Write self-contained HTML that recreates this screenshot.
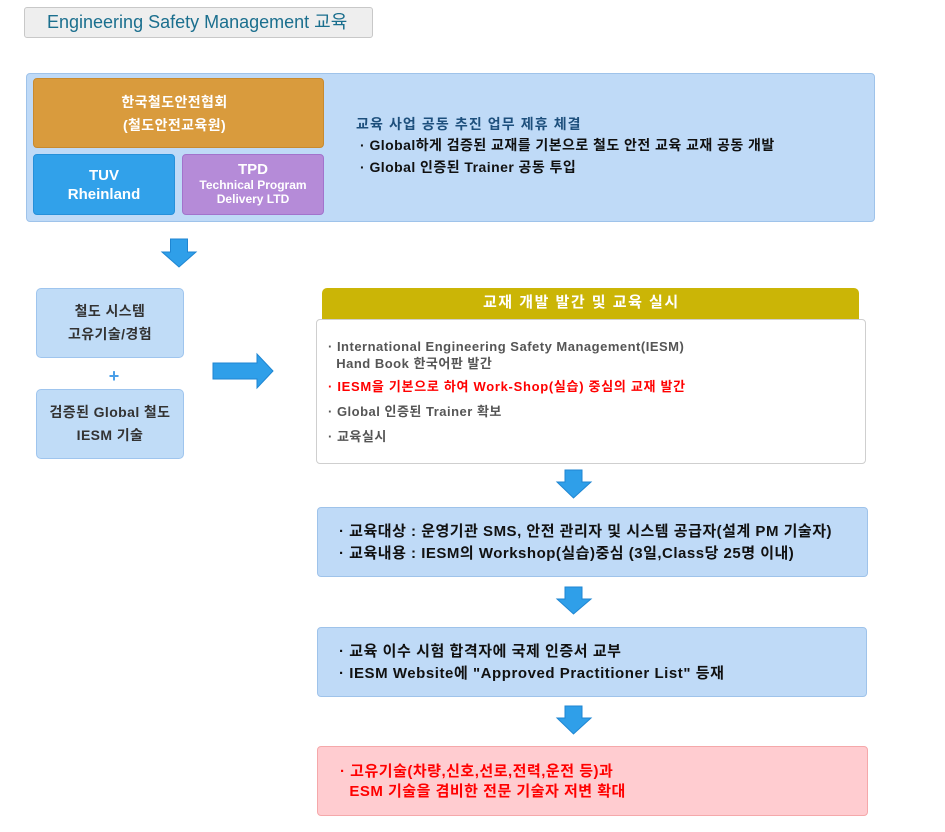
<!DOCTYPE html>
<html><head><meta charset="utf-8">
<style>
*{margin:0;padding:0;box-sizing:border-box}
html,body{width:945px;height:832px;background:#fff;overflow:hidden}
body{position:relative;font-family:"Liberation Sans","Noto Sans CJK KR","NanumGothic",sans-serif;}
.a{position:absolute}
.t{position:absolute;white-space:nowrap;font-weight:bold}
.c{text-align:center}
</style></head><body>

<!-- title -->
<div class="a" style="left:24px;top:7px;width:349px;height:31px;background:#eeeeee;border:1px solid #c8c8c8;border-radius:3px"></div>
<div class="t" style="left:47px;top:11px;font-size:18px;line-height:22px;font-weight:normal;color:#1b6f8e">Engineering Safety Management 교육</div>

<!-- top panel -->
<div class="a" style="left:26px;top:73px;width:849px;height:149px;background:#bfdaf7;border:1px solid #9fc3ea;border-radius:4px"></div>
<div class="a" style="left:33px;top:78px;width:291px;height:70px;background:#d99b3d;border:1px solid #c98a2e;border-radius:4px"></div>
<div class="t c" style="left:29px;top:91px;width:291px;font-size:14px;line-height:23px;color:#fff;letter-spacing:0.4px">한국철도안전협회<br>(철도안전교육원)</div>
<div class="a" style="left:33px;top:154px;width:142px;height:61px;background:#31a1ea;border:1px solid #2590da;border-radius:4px"></div>
<div class="t c" style="left:33px;top:166px;width:142px;font-size:15px;line-height:19px;color:#fff">TUV<br>Rheinland</div>
<div class="a" style="left:182px;top:154px;width:142px;height:61px;background:#b58bd8;border:1px solid #a273cc;border-radius:4px"></div>
<div class="t c" style="left:182px;top:161px;width:142px;font-size:15px;line-height:18px;color:#fff">TPD</div>
<div class="t c" style="left:182px;top:178px;width:142px;font-size:12px;line-height:14px;color:#fff">Technical Program<br>Delivery LTD</div>

<div class="t" style="left:356px;top:115px;font-size:14px;line-height:18px;color:#1d4f7c;letter-spacing:1.1px">교육 사업 공동 추진 업무 제휴 체결</div>
<div class="t" style="left:360px;top:136px;font-size:14px;line-height:18px;color:#111;letter-spacing:0.45px">· Global하게 검증된 교재를 기본으로 철도 안전 교육 교재 공동 개발</div>
<div class="t" style="left:360px;top:158px;font-size:14px;line-height:18px;color:#111;letter-spacing:0.45px">· Global 인증된 Trainer 공동 투입</div>

<!-- arrows -->
<svg class="a" style="left:0;top:0" width="945" height="832">
 <g fill="#2f9fe9" stroke="#1f86d2" stroke-width="1">
  <polygon points="170.5,239 187.5,239 187.5,252 196,252 179,267 162,252 170.5,252"/>
  <polygon points="565,470 582,470 582,482 591,482 573.5,498 557,482 565,482"/>
  <polygon points="565,587 582,587 582,599 591,599 573.5,614 557,599 565,599"/>
  <polygon points="565,706 582,706 582,718 591,718 573.5,734 557,718 565,718"/>
  <polygon points="213,363 257,363 257,354 273,371 257,388 257,379 213,379"/>
 </g>
</svg>

<!-- left boxes -->
<div class="a" style="left:36px;top:288px;width:148px;height:70px;background:#c0dcf7;border:1px solid #9fc5ee;border-radius:5px"></div>
<div class="t c" style="left:36px;top:300px;width:148px;font-size:14px;line-height:23px;color:#333;letter-spacing:0.4px">철도 시스템<br>고유기술/경험</div>
<div class="t c" style="left:104px;top:366px;width:20px;font-size:18px;line-height:20px;color:#4a9fe8">+</div>
<div class="a" style="left:36px;top:389px;width:148px;height:70px;background:#c0dcf7;border:1px solid #9fc5ee;border-radius:5px"></div>
<div class="t c" style="left:36px;top:401px;width:148px;font-size:14px;line-height:23px;color:#333;letter-spacing:0.4px">검증된 Global 철도<br>IESM 기술</div>

<!-- olive header + white box -->
<div class="a" style="left:322px;top:288px;width:537px;height:34px;background:#cbb506;border-radius:5px 5px 0 0"></div>
<div class="t" style="left:483px;top:293px;font-size:15px;line-height:20px;color:#fff;letter-spacing:1.5px">교재 개발 발간 및 교육 실시</div>
<div class="a" style="left:316px;top:319px;width:550px;height:145px;background:#fff;border:1px solid #cfcfcf;border-radius:4px"></div>
<div class="t" style="left:328px;top:338px;font-size:13px;line-height:17px;color:#555;letter-spacing:0.5px">· International Engineering Safety Management(IESM)<br>&nbsp;&nbsp;Hand Book 한국어판 발간</div>
<div class="t" style="left:328px;top:378px;font-size:13px;line-height:17px;color:#f00;letter-spacing:0.7px">· IESM을 기본으로 하여 Work-Shop(실습) 중심의 교재 발간</div>
<div class="t" style="left:328px;top:403px;font-size:13px;line-height:17px;color:#555;letter-spacing:0.5px">· Global 인증된 Trainer 확보</div>
<div class="t" style="left:328px;top:428px;font-size:13px;line-height:17px;color:#555;letter-spacing:0.5px">· 교육실시</div>

<!-- box 3 -->
<div class="a" style="left:317px;top:507px;width:551px;height:70px;background:#bfdaf7;border:1px solid #9fc3ea;border-radius:4px"></div>
<div class="t" style="left:339px;top:521px;font-size:15px;line-height:22px;color:#111;letter-spacing:0.5px">· 교육대상 : 운영기관 SMS, 안전 관리자 및 시스템 공급자(설계 PM 기술자)<br>· 교육내용 : IESM의 Workshop(실습)중심 (3일,Class당 25명 이내)</div>

<!-- box 4 -->
<div class="a" style="left:317px;top:627px;width:550px;height:70px;background:#bfdaf7;border:1px solid #9fc3ea;border-radius:4px"></div>
<div class="t" style="left:339px;top:641px;font-size:15px;line-height:22px;color:#111;letter-spacing:0.55px">· 교육 이수 시험 합격자에 국제 인증서 교부<br>· IESM Website에 "Approved Practitioner List" 등재</div>

<!-- box 5 -->
<div class="a" style="left:317px;top:746px;width:551px;height:70px;background:#ffccd0;border:1px solid #f5a8aa;border-radius:4px"></div>
<div class="t" style="left:340px;top:762px;font-size:15px;line-height:20px;color:#f00;letter-spacing:0.5px">· 고유기술(차량,신호,선로,전력,운전 등)과<br>&nbsp;&nbsp;ESM 기술을 겸비한 전문 기술자 저변 확대</div>

</body></html>
